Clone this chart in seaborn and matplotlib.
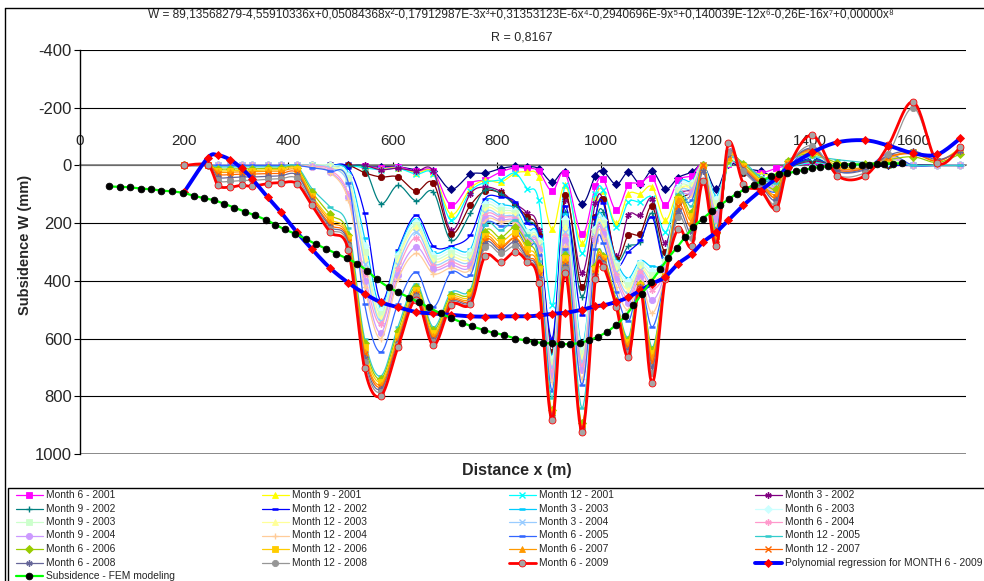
import numpy as np
import matplotlib
matplotlib.use('Agg')
import matplotlib.pyplot as plt
import seaborn as sns
from matplotlib.lines import Line2D
from matplotlib.patches import Rectangle

# measurement stations along the profile (m)
STATIONS = [200, 245, 265, 288, 310, 330, 360, 385, 416, 445,
            480, 515, 546, 577, 610, 645, 678, 712, 749, 777,
            807, 835, 858, 880, 906, 931, 963, 989, 1004, 1029,
            1052, 1075, 1098, 1123, 1148, 1174, 1196, 1221, 1244, 1273,
            1306, 1336, 1359, 1405, 1453, 1507, 1551, 1599, 1645, 1689]

# subsidence (mm) per survey, one value per station
W_NAVY = [0, 0, 0, 0, 0, 0, 0, 0, 0, 0,
          0, 0, 5, 5, 5, 15, 20, 83, 31, 27,
          11, 3, 4, 11, 58, 23, 132, 35, 20, 66,
          23, 63, 20, 83, 42, 23, 0, 83, -5, 10,
          20, 40, 5, -5, 0, 0, 0, 0, 0, 0]
W_M06_2001 = [0, 0, 0, 0, 0, 0, 0, 0, 0, 0,
              0, 0, 3, 10, 5, 20, 20, 138, 63, 50,
              23, 8, 10, 20, 89, 27, 239, 73, 48, 156,
              69, 61, 42, 138, 52, 35, 0, 140, -5, 10,
              25, 10, 0, -5, 0, 0, 0, 0, 0, 0]
W_M09_2001 = [0, 0, 0, 0, 0, 0, 0, 0, 0, 0,
              0, 0, 5, 12, 8, 25, 25, 170, 80, 52,
              58, 27, 23, 40, 222, 69, 270, 110, 87, 201,
              100, 98, 75, 190, 87, 63, 0, 166, -10, 15,
              30, 30, 5, -10, 0, 5, 0, 0, 0, 0]
W_M12_2001 = [0, 0, 0, 0, 0, 0, 0, 0, 0, 0,
              0, 0, 8, 15, 10, 30, 30, 190, 90, 59,
              50, 27, 80, 121, 485, 69, 305, 98, 85, 215,
              127, 127, 113, 230, 100, 80, 5, 200, -10, 20,
              40, 45, 10, -10, 0, 5, 0, 0, 0, 0]
W_M03_2002 = [0, 0, 0, 0, 0, 0, 0, 0, 0, 0,
              0, 0, 0, 15, 10, 20, 20, 225, 98, 75,
              90, 132, 165, 225, 620, 121, 374, 130, 121, 315,
              173, 173, 115, 270, 110, 80, 5, 220, -15, 20,
              40, 55, 10, -15, 0, 5, 0, 0, 0, 0]
W_MAROON = [0, 0, 0, 0, 0, 0, 0, 0, 0, 0,
            0, 0, 25, 40, 40, 89, 61, 236, 138, 89,
            96, 138, 179, 242, 646, 104, 422, 179, 118, 323,
            242, 236, 142, 300, 130, 90, 5, 230, -20, 25,
            45, 60, 10, -20, 0, 5, 0, 0, 0, 0]
W_M09_2002 = [0, 0, 0, 0, 0, 0, 0, 0, 0, 0,
              0, 3, 10, 132, 69, 123, 92, 260, 166, 85,
              98, 140, 190, 253, 670, 161, 456, 200, 160, 329,
              280, 265, 166, 330, 150, 100, 5, 240, -20, 25,
              45, 65, 10, -20, 0, 5, 0, 0, 0, 0]
W_M12_2002 = [0, 0, 0, 0, 0, 0, 0, 0, 0, 0,
              0, 10, 166, 470, 294, 173, 280, 280, 242, 115,
              110, 125, 200, 245, 600, 140, 520, 180, 130, 340,
              300, 260, 180, 340, 150, 100, 5, 230, -30, 20,
              40, 70, 10, -25, 0, 5, 0, 0, 0, 0]
W_M03_2003 = [0, 0, 0, 0, 0, 0, 0, 0, 0, 0,
              0, 25, 250, 490, 300, 185, 300, 285, 290, 125,
              135, 150, 225, 255, 660, 170, 620, 215, 180, 330,
              390, 330, 350, 320, 70, 55, 0, 105, -10, 0,
              40, 50, 0, -30, 0, 0, -10, 0, 0, 0]
W_M06_2003 = [0, 0, 0, 0, 0, 0, 0, 0, 0, 0,
              0, 35, 280, 500, 310, 195, 310, 295, 300, 135,
              145, 158, 232, 262, 670, 185, 635, 222, 190, 340,
              400, 338, 365, 328, 78, 61, 0, 118, -12, 2,
              44, 55, 2, -33, 2, 1, -13, 0, 0, 0]
W_M09_2003 = [0, 0, 0, 0, 0, 0, 0, 0, 0, 0,
              3, 45, 300, 515, 320, 205, 320, 305, 310, 145,
              155, 165, 240, 268, 680, 200, 650, 230, 200, 350,
              415, 346, 380, 336, 86, 67, 0, 131, -15, 5,
              48, 60, 4, -36, 5, 2, -16, 0, 0, 0]
W_M12_2003 = [0, 0, 0, 0, 0, 0, 0, 0, 0, 0,
              5, 55, 320, 530, 330, 215, 330, 315, 320, 155,
              165, 172, 248, 274, 690, 215, 665, 237, 210, 360,
              430, 354, 395, 344, 94, 73, 0, 144, -18, 8,
              52, 65, 6, -40, 8, 3, -20, 0, 0, 0]
W_M03_2004 = [0, 0, 0, 0, 0, 0, 0, 0, 0, 0,
              8, 65, 340, 540, 345, 230, 340, 325, 330, 165,
              175, 180, 255, 280, 700, 230, 680, 245, 220, 370,
              445, 362, 410, 352, 102, 80, 5, 157, -22, 10,
              56, 70, 8, -44, 10, 5, -24, 0, 0, 0]
W_M06_2004 = [0, 0, 0, 0, 0, 0, 0, 0, 0, 3,
              15, 100, 380, 550, 360, 250, 350, 335, 340, 175,
              180, 185, 262, 286, 715, 245, 695, 252, 228, 380,
              460, 370, 430, 360, 110, 87, 5, 170, -28, 12,
              60, 75, 10, -48, 12, 6, -28, 0, 0, 0]
W_M09_2004 = [0, 0, 0, 0, 0, 0, 0, 0, 0, 5,
              22, 110, 400, 580, 380, 283, 360, 345, 350, 185,
              190, 192, 270, 292, 730, 260, 710, 260, 236, 395,
              475, 385, 467, 368, 120, 94, 5, 185, -34, 15,
              64, 80, 10, -52, 15, 8, -32, 0, 0, 0]
W_M12_2004 = [0, 0, 0, 0, 0, 0, 0, 0, 0, 5,
              25, 120, 420, 600, 395, 305, 375, 355, 360, 195,
              195, 200, 280, 300, 750, 280, 740, 270, 250, 420,
              500, 400, 512, 380, 140, 105, 5, 210, -42, 18,
              68, 85, 10, -56, 18, 9, -36, 0, 0, 0]
W_M06_2005 = [0, 0, 0, 0, 0, 0, 0, 0, 0, 8,
              20, 60, 480, 647, 480, 370, 490, 370, 380, 205,
              210, 215, 285, 310, 780, 290, 760, 290, 270, 440,
              540, 410, 560, 385, 150, 120, 10, 220, -50, 20,
              70, 90, 10, -60, 20, 10, -40, 0, 0, 0]
W_M12_2005 = [0, 0, 5, 5, 5, 5, 5, 5, 3, 80,
              144, 218, 600, 730, 560, 410, 560, 440, 430, 208,
              225, 190, 242, 330, 806, 300, 841, 346, 311, 467,
              595, 409, 630, 380, 100, 140, 0, 225, -10, -10,
              40, 60, -20, -30, -20, -10, -10, 0, 0, 0]
W_M06_2006 = [0, 0, 12, 12, 12, 12, 10, 10, 8, 92,
              170, 240, 615, 740, 575, 420, 570, 450, 440, 230,
              250, 215, 270, 350, 848, 310, 894, 350, 315, 470,
              605, 412, 640, 382, 110, 160, 0, 235, -20, -5,
              50, 80, -15, -40, -10, -5, -20, -30, -10, -40]
W_M12_2006 = [0, 0, 18, 18, 18, 18, 15, 15, 12, 105,
              185, 250, 630, 750, 590, 430, 580, 458, 448, 245,
              265, 235, 290, 360, 855, 320, 906, 360, 320, 474,
              612, 415, 650, 384, 115, 175, 5, 245, -25, 3,
              55, 110, -10, -45, 0, 10, -25, -45, -15, -60]
W_M06_2007 = [0, 0, 22, 24, 22, 22, 20, 20, 18, 110,
              195, 258, 645, 760, 600, 440, 590, 465, 455, 253,
              280, 250, 305, 370, 860, 330, 910, 365, 325, 478,
              620, 418, 665, 386, 120, 190, 0, 255, -30, 5,
              60, 100, -10, -50, 10, 5, -30, -45, -15, -55]
W_M12_2007 = [0, 0, 30, 32, 30, 30, 28, 28, 25, 118,
              205, 265, 655, 768, 610, 445, 598, 470, 462, 262,
              287, 253, 318, 380, 865, 340, 912, 372, 332, 480,
              630, 420, 680, 388, 140, 210, 0, 262, -35, 10,
              65, 110, -5, -55, 15, 10, -30, -40, -15, -55]
W_M06_2008 = [0, 0, 40, 42, 40, 40, 38, 36, 33, 122,
              212, 272, 668, 776, 615, 450, 605, 475, 468, 272,
              295, 265, 322, 390, 870, 350, 915, 378, 338, 484,
              640, 422, 700, 390, 160, 230, 20, 270, -40, 15,
              70, 120, 0, -60, 20, 15, -35, -50, -20, -50]
W_M12_2008 = [0, 0, 52, 55, 52, 52, 48, 46, 45, 130,
              220, 280, 680, 785, 622, 455, 612, 480, 474, 283,
              305, 280, 328, 400, 876, 360, 918, 385, 345, 487,
              650, 425, 721, 391, 179, 250, 58, 278, -45, 20,
              80, 135, 3, -69, 33, 25, -40, -200, -10, -60]
W_M06_2009 = [0, 0, 69, 75, 69, 72, 63, 60, 63, 138,
              231, 294, 703, 799, 630, 465, 623, 485, 480, 315,
              335, 300, 335, 409, 882, 374, 923, 392, 352, 490,
              663, 427, 755, 392, 219, 280, 55, 280, -76, 63,
              87, 149, 6, -105, 35, 35, -70, -220, -10, -63]

# polynomial regression for Month 6 - 2009, read at the same stations
W_POLY = [92, -26, -35, -20, 10, 46, 110, 161, 231, 290,
          356, 407, 444, 474, 491, 508, 513, 518, 523, 524,
          523, 523, 523, 520, 514, 511, 500, 488, 485, 473,
          457, 433, 410, 386, 340, 306, 265, 231, 190, 138,
          87, 45, 6, -45, -80, -87, -69, -42, -38, -94]

# FEM model profile
FEM_X = [56, 77, 96, 117, 137, 156, 177, 198, 218, 237,
         258, 277, 296, 316, 336, 356, 375, 393, 412, 433,
         452, 472, 492, 512, 531, 551, 570, 592, 611, 631,
         650, 669, 692, 711, 733, 753, 776, 794, 813, 835,
         855, 871, 889, 906, 923, 941, 959, 976, 993, 1011,
         1029, 1046, 1062, 1078, 1095, 1113, 1128, 1145, 1161, 1177,
         1195, 1212, 1228, 1246, 1260, 1276, 1293, 1309, 1325, 1341,
         1357, 1373, 1389, 1405, 1419, 1435, 1451, 1466, 1482, 1500,
         1514, 1529, 1543, 1559, 1577]
FEM_W = [73, 74, 76, 80, 83, 87, 90, 95, 105, 113,
         121, 133, 146, 160, 173, 188, 205, 222, 236, 255,
         272, 289, 306, 322, 340, 365, 395, 422, 440, 458,
         474, 492, 513, 528, 545, 558, 571, 580, 587, 600,
         606, 612, 615, 617, 619, 619, 615, 606, 594, 577,
         552, 522, 485, 445, 405, 360, 322, 285, 248, 213,
         184, 158, 138, 115, 98, 83, 67, 54, 38, 29,
         27, 21, 15, 9, 6, 3, 0, -3, -3, -3,
         -3, -6, -6, -6, -8]

MONTH_SERIES = [
    (None, W_NAVY), ('Month 6 - 2001', W_M06_2001), ('Month 9 - 2001', W_M09_2001),
    ('Month 12 - 2001', W_M12_2001), ('Month 3 - 2002', W_M03_2002), (None, W_MAROON),
    ('Month 9 - 2002', W_M09_2002), ('Month 12 - 2002', W_M12_2002),
    ('Month 3 - 2003', W_M03_2003), ('Month 6 - 2003', W_M06_2003),
    ('Month 9 - 2003', W_M09_2003), ('Month 12 - 2003', W_M12_2003),
    ('Month 3 - 2004', W_M03_2004), ('Month 6 - 2004', W_M06_2004),
    ('Month 9 - 2004', W_M09_2004), ('Month 12 - 2004', W_M12_2004),
    ('Month 6 - 2005', W_M06_2005), ('Month 12 - 2005', W_M12_2005),
    ('Month 6 - 2006', W_M06_2006), ('Month 12 - 2006', W_M12_2006),
    ('Month 6 - 2007', W_M06_2007), ('Month 12 - 2007', W_M12_2007),
    ('Month 6 - 2008', W_M06_2008), ('Month 12 - 2008', W_M12_2008),
    ('Month 6 - 2009', W_M06_2009),
]
POLY_LABEL = 'Polynomial regression for MONTH 6 - 2009'
FEM_LABEL = 'Subsidence - FEM modeling'

TITLE = ('W = 89,13568279-4,55910336x+0,05084368x\u00b2-0,17912987E-3x\u00b3'
         '+0,31353123E-6x\u2074-0,2940696E-9x\u2075+0,140039E-12x\u2076'
         '-0,26E-16x\u2077+0,00000x\u2078')
SUBTITLE = 'R = 0,8167'

STAR = (6, 2, 0)
# excel-like colour / marker per survey (same order as MONTH_SERIES)
STYLES = [
    ('#000080', 'D'), ('#FF00FF', 's'), ('#FFFF00', '^'), ('#00FFFF', 'x'),
    ('#800080', STAR), ('#800000', 'o'), ('#008080', '+'), ('#0000FF', '_'),
    ('#00CCFF', '_'), ('#CCFFFF', 'D'), ('#CCFFCC', 's'), ('#FFFF99', '^'),
    ('#99CCFF', 'x'), ('#FF99CC', STAR), ('#CC99FF', 'o'), ('#FFCC99', '+'),
    ('#3366FF', '_'), ('#33CCCC', '_'), ('#99CC00', 'D'), ('#FFCC00', 's'),
    ('#FF9900', '^'), ('#FF6600', 'x'), ('#666699', STAR), ('#969696', 'o'),
    ('#FF0000', 'o'),
]

W, H = 984, 581


def fx(px):
    return px / W


def fy(py):
    return 1 - py / H


def smooth(xs, ys, steps=12):
    # excel style smoothed line through the points (cubic bezier, catmull-rom handles)
    p = np.column_stack([xs, ys]).astype(float)
    ext = np.vstack([p[0], p, p[-1]])
    t = np.linspace(0, 1, steps + 1)[1:, None]
    out = [p[:1]]
    for i in range(len(p) - 1):
        p0, p1, p2, p3 = ext[i], ext[i + 1], ext[i + 2], ext[i + 3]
        c1 = p1 + (p2 - p0) / 6
        c2 = p2 - (p3 - p1) / 6
        out.append((1 - t) ** 3 * p1 + 3 * (1 - t) ** 2 * t * c1
                   + 3 * (1 - t) * t ** 2 * c2 + t ** 3 * p2)
    return np.vstack(out)


def marker_kw(color, marker, ms=4.5):
    kw = dict(marker=marker, markersize=ms, markeredgecolor=color, markerfacecolor=color)
    if marker in ('x', '+', '_') or marker == STAR:
        kw['markeredgewidth'] = 1.0 if marker != '_' else 1.8
    else:
        kw['markeredgewidth'] = 0.6
    return kw


def draw_series(ax, xs, ys, color, marker, lw=0.9, ms=4.5, face=None):
    pts = smooth(xs, ys)
    sns.lineplot(x=pts[:, 0], y=pts[:, 1], sort=False, estimator=None,
                 color=color, linewidth=lw, ax=ax, legend=False)
    kw = marker_kw(color, marker, ms)
    if face is not None:
        kw['markerfacecolor'] = face
    ax.plot(xs, ys, linestyle='none', **kw)


def main():
    sns.set_style('white')
    plt.rcParams['font.family'] = ['Liberation Sans', 'DejaVu Sans']
    plt.rcParams['axes.unicode_minus'] = False

    fig = plt.figure(figsize=(W / 100, H / 100), dpi=100)
    ax = fig.add_axes([fx(80), fy(454), fx(966) - fx(80), fy(50) - fy(454)])

    legend_items = []
    for (label, vals), (color, marker) in zip(MONTH_SERIES, STYLES):
        if label == 'Month 6 - 2009':
            draw_series(ax, STATIONS, vals, color, marker, lw=2.0, ms=5, face='#A6A6A6')
            legend_items.append((label, color, 2.0, marker_kw(color, marker, 5) | {'markerfacecolor': '#A6A6A6'}))
        else:
            draw_series(ax, STATIONS, vals, color, marker)
            if label:
                legend_items.append((label, color, 0.9, marker_kw(color, marker)))

    draw_series(ax, STATIONS, W_POLY, '#0000FF', 'D', lw=2.8, ms=4.5, face='#FF0000')
    ax.lines[-1].set_markeredgecolor('#FF0000')
    legend_items.append((POLY_LABEL, '#0000FF', 2.8,
                         dict(marker='D', markersize=4.5, markeredgecolor='#FF0000',
                              markerfacecolor='#FF0000', markeredgewidth=0.6)))

    draw_series(ax, FEM_X, FEM_W, '#00FF00', 'o', lw=1.6, ms=4.8, face='black')
    ax.lines[-1].set_markeredgecolor('black')
    legend_items.append((FEM_LABEL, '#00FF00', 1.6,
                         dict(marker='o', markersize=4.8, markeredgecolor='black',
                              markerfacecolor='black', markeredgewidth=0.6)))

    ax.set_xlim(0, 1700)
    ax.set_ylim(1000, -400)
    ax.set_yticks(range(-400, 1001, 200))
    ax.set_xticks(range(0, 1601, 200))
    ax.yaxis.grid(True, color='black', linewidth=0.8)
    ax.set_axisbelow(True)
    ax.axhline(-400, color='#808080', linewidth=1.2, zorder=0.5)
    ax.axhline(1000, color='#808080', linewidth=1.2, zorder=0.5)

    ax.xaxis.tick_top()
    ax.spines['top'].set_position(('data', 0))
    ax.spines['top'].set_color('#808080')
    ax.spines['top'].set_linewidth(1.2)
    ax.spines['top'].set_zorder(0.6)
    ax.spines['bottom'].set_visible(False)
    ax.spines['right'].set_visible(False)
    ax.spines['left'].set_color('black')
    ax.spines['left'].set_linewidth(1.0)
    ax.tick_params(axis='x', direction='inout', length=5, width=0.8,
                   color='black', labelsize=11, pad=10)
    ax.tick_params(axis='y', direction='out', length=4, width=0.8,
                   color='black', labelsize=12, pad=2, left=True)
    ax.set_xlabel('')
    ax.set_ylabel('')

    fig.text(fx(521), fy(15), TITLE, ha='center', va='center', fontsize=8.6)
    fig.text(fx(522), fy(37), SUBTITLE, ha='center', va='center', fontsize=9)
    fig.text(fx(25), fy(245), 'Subsidence W (mm)', rotation=90, ha='center',
             va='center', fontsize=10.5, fontweight='bold')
    fig.text(fx(517), fy(470), 'Distance x (m)', ha='center', va='center',
             fontsize=11.5, fontweight='bold')

    # chart area and legend frames
    fig.add_artist(Line2D([fx(5), fx(984)], [fy(8), fy(8)], color='black', lw=1.0))
    fig.add_artist(Line2D([fx(5), fx(5)], [fy(8), fy(581)], color='black', lw=1.0))
    fig.add_artist(Rectangle((fx(8), fy(590)), fx(990) - fx(8), fy(488) - fy(590),
                             transform=fig.transFigure, facecolor='white',
                             edgecolor='black', lw=1.0))

    col_x = [16, 262, 509, 755]
    row_y = [495, 508.5, 522, 535.5, 549, 562.5, 576]
    for i, (label, color, lw, mkw) in enumerate(legend_items):
        r, c = divmod(i, 4)
        x0 = col_x[c]
        y = fy(row_y[r])
        fig.add_artist(Line2D([fx(x0), fx(x0 + 13), fx(x0 + 27)], [y, y, y],
                              color=color, lw=lw, markevery=[1], **mkw))
        fig.text(fx(x0 + 30), y, label, ha='left', va='center', fontsize=7.4)

    fig.savefig('out.png', dpi=100)


if __name__ == '__main__':
    main()
